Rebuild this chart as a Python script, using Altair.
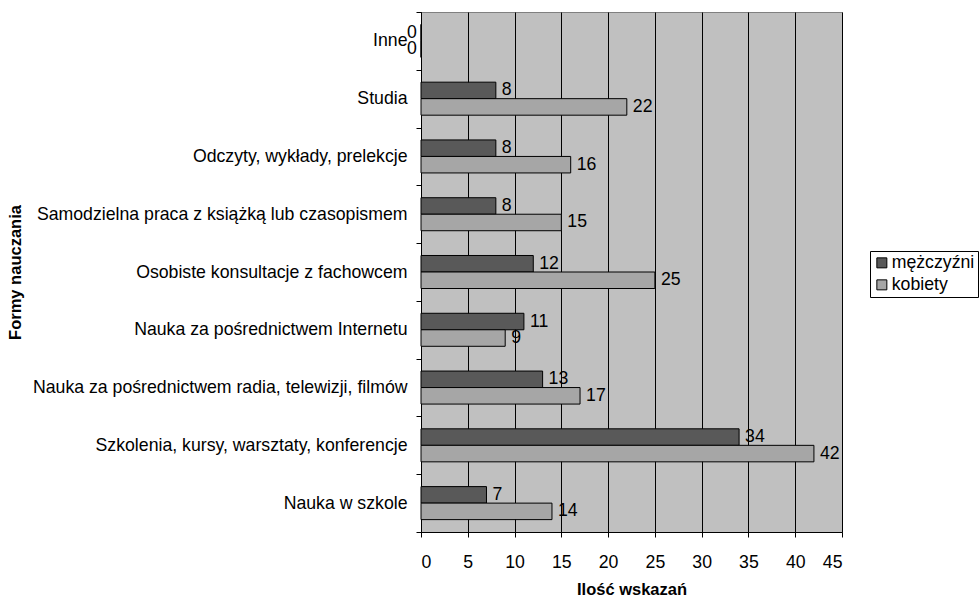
import altair as alt
import pandas as pd

# Learning forms, top to bottom as listed on the axis
categories = [
    "Inne",
    "Studia",
    "Odczyty, wykłady, prelekcje",
    "Samodzielna praca z książką lub czasopismem",
    "Osobiste konsultacje z fachowcem",
    "Nauka za pośrednictwem Internetu",
    "Nauka za pośrednictwem radia, telewizji, filmów",
    "Szkolenia, kursy, warsztaty, konferencje",
    "Nauka w szkole",
]
men = [0, 8, 8, 8, 12, 11, 13, 34, 7]
women = [0, 22, 16, 15, 25, 9, 17, 42, 14]
series = ["mężczyźni", "kobiety"]
x_ticks = [0, 5, 10, 15, 20, 25, 30, 35, 40, 45]

rows = []
for cat, m, w in zip(categories, men, women):
    rows.append({"forma": cat, "plec": series[0], "ilosc": m})
    rows.append({"forma": cat, "plec": series[1], "ilosc": w})
df = pd.DataFrame(rows)

FONT = "Liberation Sans"
FS = 17.7

y_enc = alt.Y(
    "forma:N",
    sort=categories,
    scale=alt.Scale(paddingInner=0, paddingOuter=0),
    axis=alt.Axis(
        title="Formy nauczania",
        titleFont=FONT,
        titleFontSize=16.5,
        titleFontWeight="bold",
        titleColor="black",
        titleX=-406,
        titleY=260,
        titleAngle=-90,
        titleAlign="center",
        titleBaseline="middle",
        labelFont=FONT,
        labelFontSize=FS,
        labelColor="black",
        labelPadding=9,
        labelLimit=0,
        tickBand="extent",
        tickSize=5,
        tickColor="black",
        domainColor="black",
        grid=False,
    ),
)
yoff_enc = alt.YOffset(
    "plec:N",
    sort=series,
    scale=alt.Scale(domain=series, paddingInner=0, paddingOuter=0.75),
)
x_enc = alt.X(
    "ilosc:Q",
    scale=alt.Scale(domain=[0, 45], nice=False),
    axis=alt.Axis(
        title="Ilość wskazań",
        titleFont=FONT,
        titleFontSize=16.5,
        titleFontWeight="bold",
        titleColor="black",
        titleY=57,
        titleBaseline="middle",
        values=x_ticks,
        labelFont=FONT,
        labelFontSize=FS,
        labelColor="black",
        labelPadding=16,
        tickSize=5,
        tickColor="black",
        domainColor="black",
        grid=True,
        gridColor="black",
        gridOpacity=1,
        gridWidth=1,
    ),
)

bars = alt.Chart(df).mark_bar(stroke="black", strokeWidth=1).encode(
    x=x_enc,
    y=y_enc,
    yOffset=yoff_enc,
    color=alt.Color(
        "plec:N",
        sort=series,
        scale=alt.Scale(domain=series, range=["#595959", "#a6a6a6"]),
        legend=alt.Legend(
            title=None,
            orient="none",
            legendX=449,
            legendY=239,
            direction="vertical",
            labelFont=FONT,
            labelFontSize=FS,
            labelColor="black",
            labelOffset=1,
            symbolType="square",
            symbolSize=100,
            symbolStrokeColor="black",
            symbolStrokeWidth=1,
            rowPadding=3,
            padding=3,
            strokeColor="black",
            fillColor="white",
        ),
    ),
)

label_style = dict(align="left", baseline="middle", font=FONT, fontSize=FS, color="black")

labels = alt.Chart(df).transform_filter("datum.ilosc > 0").mark_text(dx=6, **label_style).encode(
    x="ilosc:Q",
    y=alt.Y("forma:N", sort=categories),
    yOffset=alt.YOffset("plec:N", sort=series),
    text="ilosc:Q",
)

zero_labels = alt.Chart(df).transform_filter("datum.ilosc == 0").mark_text(dx=-14, **label_style).encode(
    x="ilosc:Q",
    y=alt.Y("forma:N", sort=categories),
    yOffset=alt.YOffset("plec:N", sort=series),
    text="ilosc:Q",
)

chart = (
    alt.layer(bars, labels, zero_labels)
    .properties(
        width=421,
        height=520,
        padding={"left": 421, "top": 12, "right": 137, "bottom": 64},
        autosize=alt.AutoSizeParams(type="none"),
        background="white",
    )
    .configure_view(fill="#c0c0c0", stroke="#808080", strokeWidth=1)
)

chart.save("out.html", embed_options={"renderer": "svg", "actions": False})
